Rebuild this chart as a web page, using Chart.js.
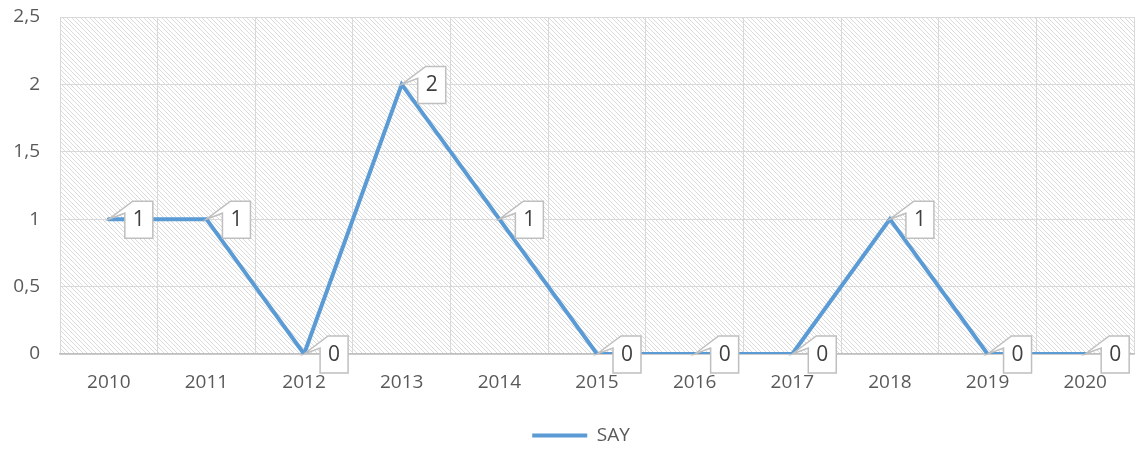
<!DOCTYPE html>
<html>
<head>
<meta charset="utf-8">
<script src="https://cdn.jsdelivr.net/npm/chart.js@4/dist/chart.umd.min.js"></script>
<style>
  html, body { margin: 0; padding: 0; background: #fff; }
  #wrap { width: 1136px; height: 450px; position: relative; }
</style>
</head>
<body>
<div id="wrap"><canvas id="chart"></canvas></div>
<script>
// Data
const years = ['2010', '2011', '2012', '2013', '2014', '2015', '2016', '2017', '2018', '2019', '2020'];
const sayValues = [1, 1, 0, 2, 1, 0, 0, 0, 1, 0, 0];
const seriesName = 'SAY';

const COLOURS = {
  line:  '#5b9bd5',
  text:  '#595959',
  label: '#404040',
  grid:  '#d9d9d9',
  axis:  '#bfbfbf',
  hatch: '#dcdcdc',
};
const FONT = '"Open Sans", Lato, sans-serif';

// Light diagonal hatch used as plot-area fill
function makeHatch() {
  const c = document.createElement('canvas');
  c.width = 9; c.height = 9;
  const g = c.getContext('2d');
  g.fillStyle = '#fff';
  g.fillRect(0, 0, 9, 9);
  g.fillStyle = COLOURS.hatch;
  for (let i = 0; i < 9; i++) {
    g.fillRect(i, i, 1, 1);
    g.fillRect((i + 4) % 9, i, 1, 1);
  }
  return c;
}

const hatchPlugin = {
  id: 'hatch',
  beforeDraw(chart) {
    const { ctx, chartArea: a } = chart;
    ctx.save();
    ctx.fillStyle = ctx.createPattern(makeHatch(), 'repeat');
    ctx.fillRect(a.left, a.top, a.right - a.left, a.bottom - a.top);
    ctx.restore();
  },
};

// nudge the legend to where the reference has it
const legendShift = {
  id: 'legendShift',
  afterLayout(chart) {
    const lg = chart.legend;
    lg.left += 14; lg.right += 14;
    lg.top += 5; lg.bottom += 5;
  },
};

// Excel-style callout labels to the right of each point
const calloutPlugin = {
  id: 'callouts',
  afterDatasetsDraw(chart) {
    const ctx = chart.ctx;
    const meta = chart.getDatasetMeta(0);
    const data = chart.data.datasets[0].data;
    ctx.save();
    meta.data.forEach((pt, i) => {
      const px = pt.x, py = pt.y;
      const left = px + 16, right = px + 44;
      const top = py - 18, bottom = py + 19;
      ctx.beginPath();
      ctx.moveTo(px, py);
      ctx.lineTo(left + 8, top);
      ctx.lineTo(right, top);
      ctx.lineTo(right, bottom);
      ctx.lineTo(left, bottom);
      ctx.lineTo(left, top + 12);
      ctx.closePath();
      ctx.fillStyle = '#fff';
      ctx.fill();
      ctx.strokeStyle = COLOURS.axis;
      ctx.lineWidth = 1.5;
      ctx.stroke();
      ctx.fillStyle = COLOURS.label;
      ctx.font = '21px ' + FONT;
      ctx.textAlign = 'center';
      ctx.textBaseline = 'middle';
      ctx.fillText(String(data[i]), (left + right) / 2, py + 1);
    });
    ctx.restore();
  },
};

new Chart(document.getElementById('chart'), {
  type: 'line',
  data: {
    labels: years,
    datasets: [{
      label: seriesName,
      data: sayValues,
      borderColor: COLOURS.line,
      backgroundColor: COLOURS.line,
      borderWidth: 4,
      borderCapStyle: 'round',
      borderJoinStyle: 'miter',
      pointRadius: 0,
      pointHoverRadius: 0,
      tension: 0,
    }],
  },
  options: {
    responsive: true,
    maintainAspectRatio: false,
    animation: false,
    layout: { padding: { top: 17, right: 2, left: 0, bottom: 0 } },
    plugins: {
      tooltip: { enabled: false },
      legend: {
        position: 'bottom',
        labels: {
          usePointStyle: true,
          pointStyle: 'line',
          pointStyleWidth: 55,
          color: COLOURS.text,
          font: { family: FONT, size: 19 },
          padding: 10,
        },
      },
    },
    scales: {
      x: {
        offset: true,
        grid: { offset: true, color: COLOURS.grid, drawTicks: false },
        border: { color: COLOURS.axis, width: 1.5 },
        ticks: {
          color: COLOURS.text,
          font: { family: FONT, size: 19 },
          padding: 17,
          maxRotation: 0,
        },
        afterFit(scale) { scale.height = 57; },
      },
      y: {
        min: 0,
        max: 2.5,
        grid: { color: COLOURS.grid, drawTicks: false },
        border: { display: false },
        ticks: {
          stepSize: 0.5,
          color: COLOURS.text,
          font: { family: FONT, size: 19 },
          padding: 20,
          callback: v => String(v).replace('.', ','),
        },
        afterFit(scale) {
          scale.width = 60;
          scale.paddingTop = 0;
          scale.paddingBottom = 0;
        },
      },
    },
  },
  plugins: [hatchPlugin, legendShift, calloutPlugin],
});
</script>
</body>
</html>
